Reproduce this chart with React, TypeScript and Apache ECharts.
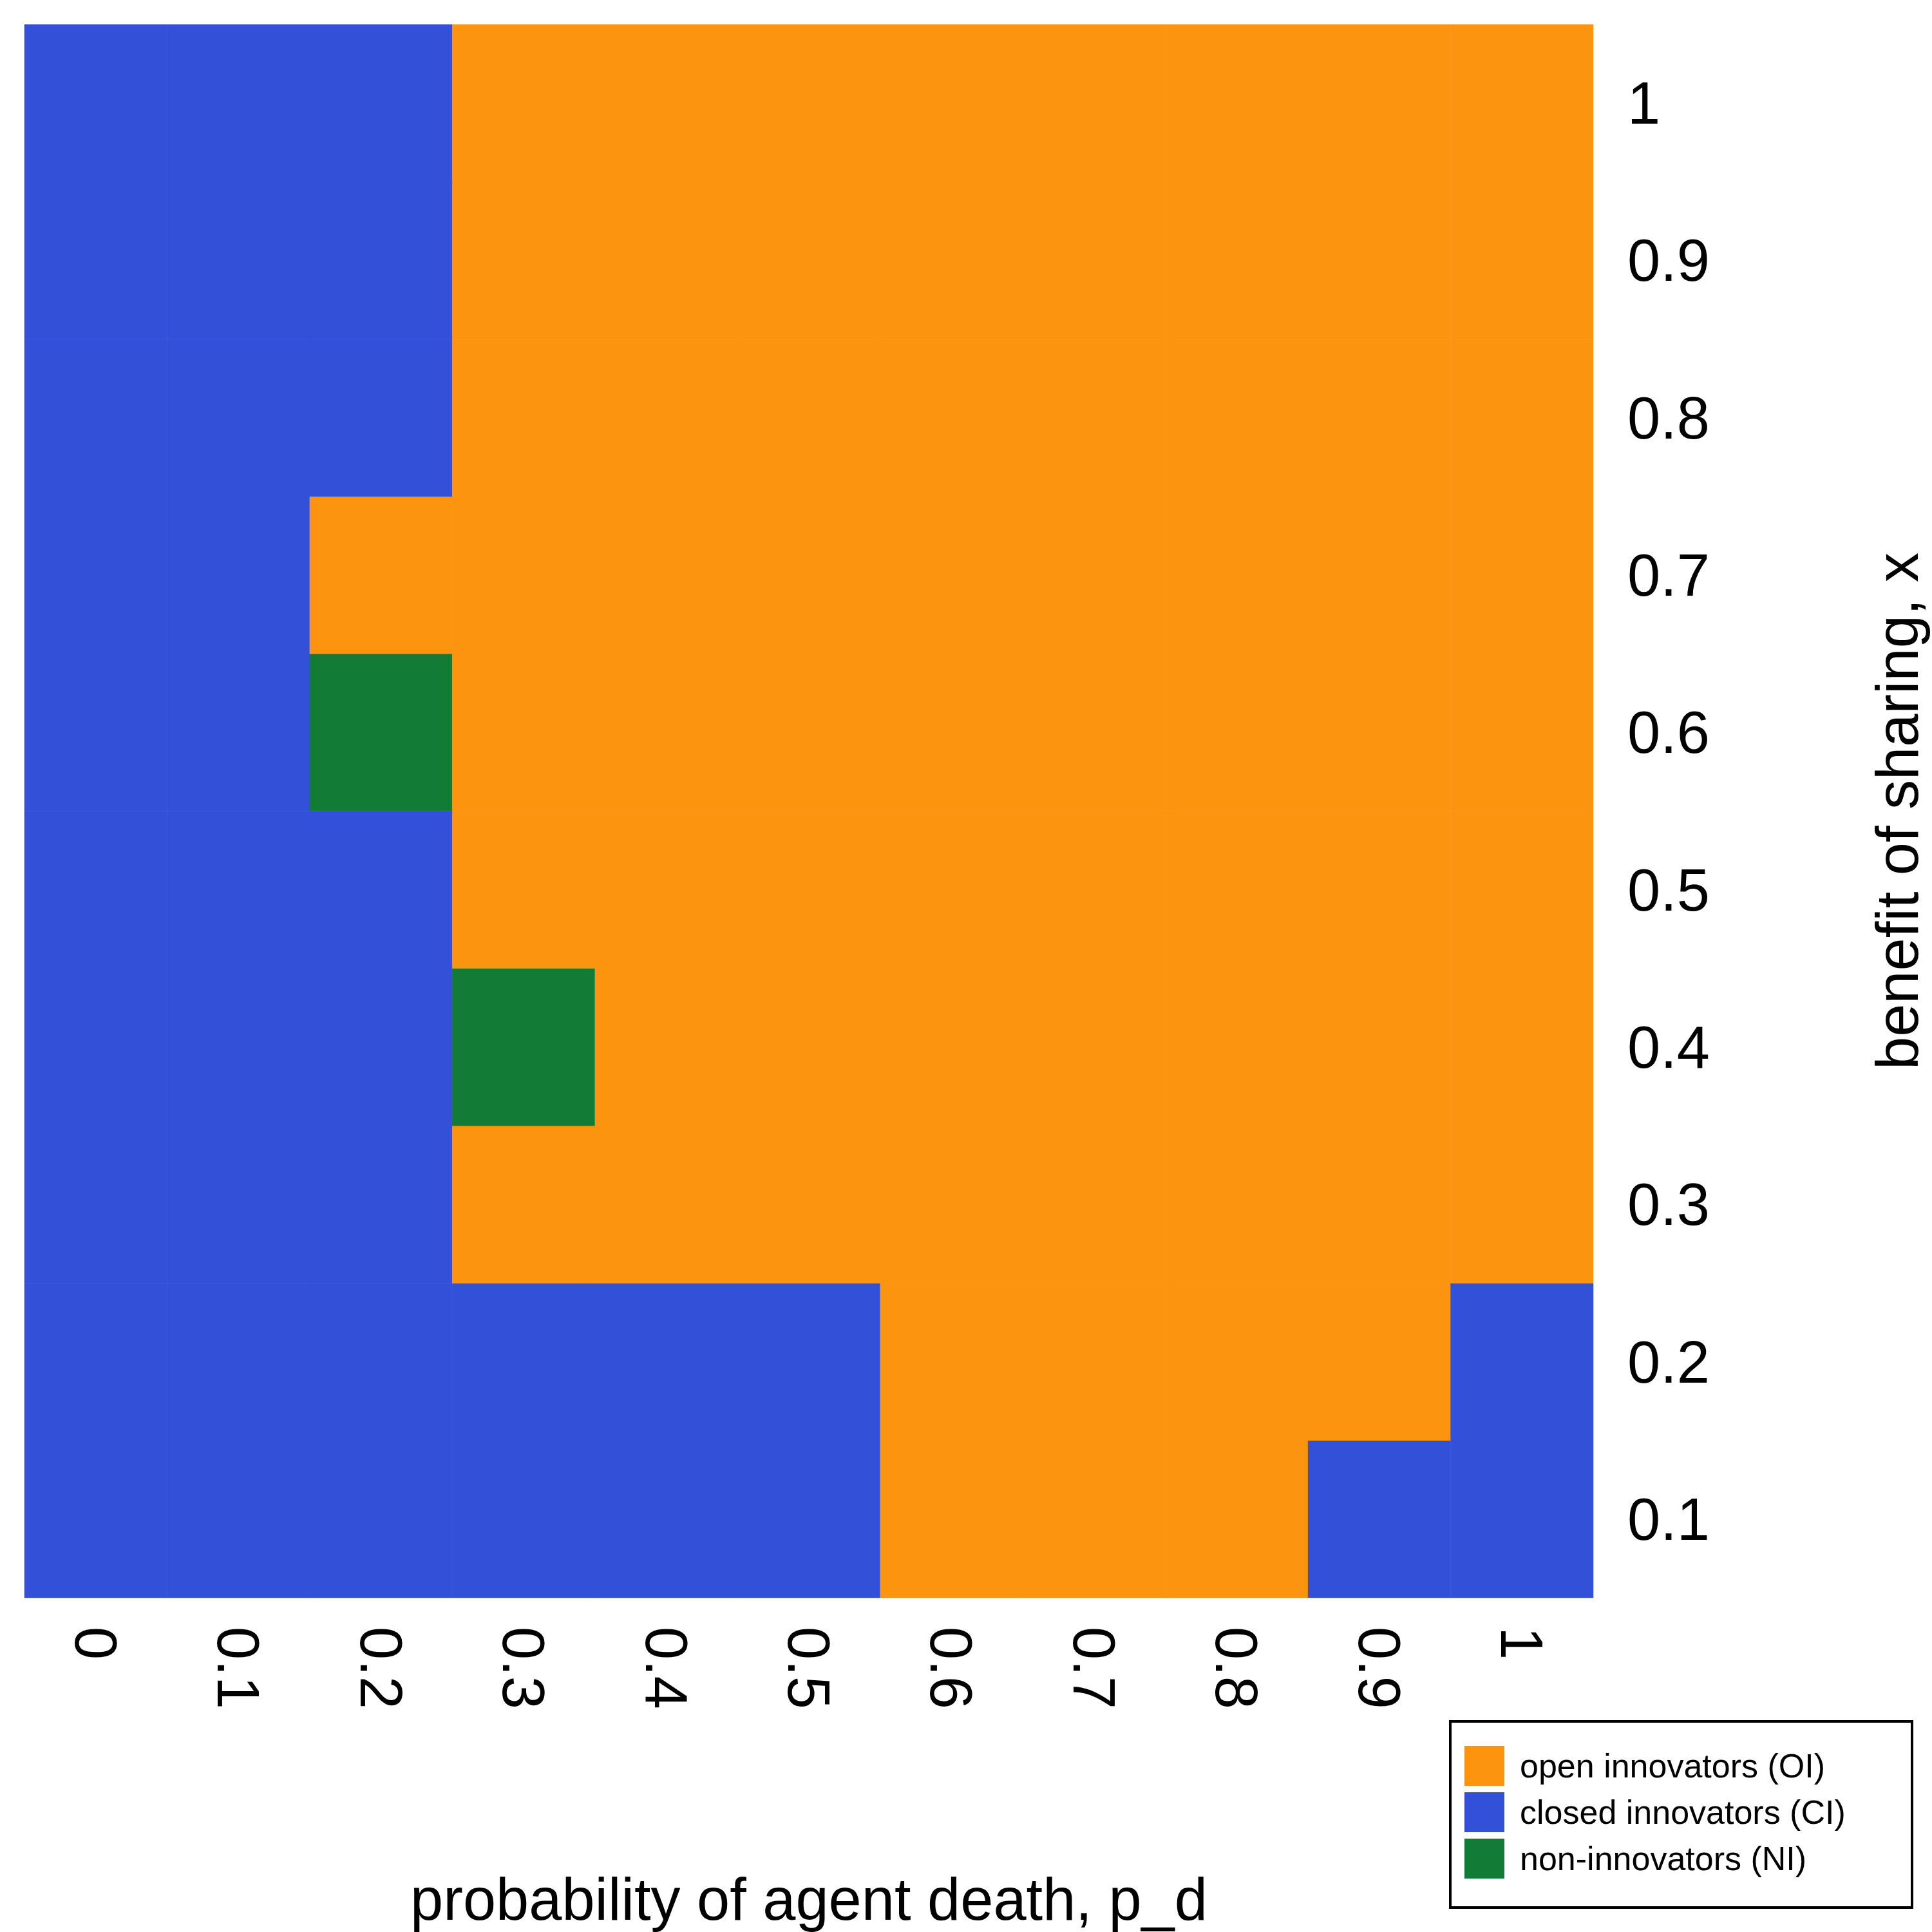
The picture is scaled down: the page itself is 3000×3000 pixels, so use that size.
import React, { useEffect, useRef } from "react";
import * as echarts from "echarts";

const xLabels = ["0", "0.1", "0.2", "0.3", "0.4", "0.5", "0.6", "0.7", "0.8", "0.9", "1"];
const yLabels = ["0.1", "0.2", "0.3", "0.4", "0.5", "0.6", "0.7", "0.8", "0.9", "1"];
// 0 = open innovators (OI), 1 = closed innovators (CI), 2 = non-innovators (NI)
const gridRows: number[][] = [
  [1, 1, 1, 1, 1, 1, 0, 0, 0, 1, 1], // 0.1
  [1, 1, 1, 1, 1, 1, 0, 0, 0, 0, 1], // 0.2
  [1, 1, 1, 0, 0, 0, 0, 0, 0, 0, 0], // 0.3
  [1, 1, 1, 2, 0, 0, 0, 0, 0, 0, 0], // 0.4
  [1, 1, 1, 0, 0, 0, 0, 0, 0, 0, 0], // 0.5
  [1, 1, 2, 0, 0, 0, 0, 0, 0, 0, 0], // 0.6
  [1, 1, 0, 0, 0, 0, 0, 0, 0, 0, 0], // 0.7
  [1, 1, 1, 0, 0, 0, 0, 0, 0, 0, 0], // 0.8
  [1, 1, 1, 0, 0, 0, 0, 0, 0, 0, 0], // 0.9
  [1, 1, 1, 0, 0, 0, 0, 0, 0, 0, 0], // 1
];
const classNames = ["open innovators (OI)", "closed innovators (CI)", "non-innovators (NI)"];
const classColors = ["#FD9410", "#3350D8", "#127C37"];

export default function App() {
  const ref = useRef<HTMLDivElement>(null);
  useEffect(() => {
    const chart = echarts.init(ref.current!, undefined, { renderer: "svg" });
    const data: number[][] = [];
    gridRows.forEach((row, yi) => row.forEach((v, xi) => data.push([xi, yi, v])));
    const font = "Liberation Sans, Arial, sans-serif";
    const lx = 2252, ly = 2673;
    const legendEls: any[] = [
      { type: "rect", shape: { x: lx, y: ly, width: 717, height: 289 }, style: { fill: "#fff", stroke: "#000", lineWidth: 4 } },
    ];
    classNames.forEach((n, i) => {
      legendEls.push({ type: "rect", shape: { x: lx + 22, y: ly + 38 + i * 72, width: 62, height: 62 }, style: { fill: classColors[i] } });
      legendEls.push({ type: "text", x: lx + 108, y: ly + 69 + i * 72, style: { text: n, fontSize: 52, fontFamily: font, fill: "#000", verticalAlign: "middle" } });
    });
    chart.setOption({
      animation: false,
      backgroundColor: "#fff",
      grid: { left: 38, top: 38, width: 2463, height: 2463 },
      xAxis: {
        type: "category", data: xLabels,
        axisLine: { show: false }, axisTick: { show: false }, splitArea: { show: false },
        axisLabel: { rotate: -90, fontSize: 92, fontFamily: font, color: "#000", margin: 45 },
        name: "probability of agent death, p_d", nameLocation: "middle", nameGap: 422,
        nameTextStyle: { fontSize: 92, fontFamily: font, color: "#000" },
      },
      yAxis: {
        type: "category", data: yLabels, position: "right",
        axisLine: { show: false }, axisTick: { show: false },
        axisLabel: { fontSize: 92, fontFamily: font, color: "#000", margin: 53, align: "left" },
        name: "benefit of sharing, x", nameLocation: "middle", nameGap: 426, nameRotate: 90,
        nameTextStyle: { fontSize: 92, fontFamily: font, color: "#000" },
      },
      visualMap: {
        type: "piecewise", show: false, dimension: 2,
        pieces: classColors.map((c, i) => ({ value: i, color: c })),
      },
      series: [{ type: "heatmap", data, itemStyle: { borderWidth: 0 } }],
      graphic: legendEls,
    });
    return () => chart.dispose();
  }, []);
  return <div ref={ref} style={{ position: "absolute", left: 0, top: 0, width: 3000, height: 3000 }} />;
}
